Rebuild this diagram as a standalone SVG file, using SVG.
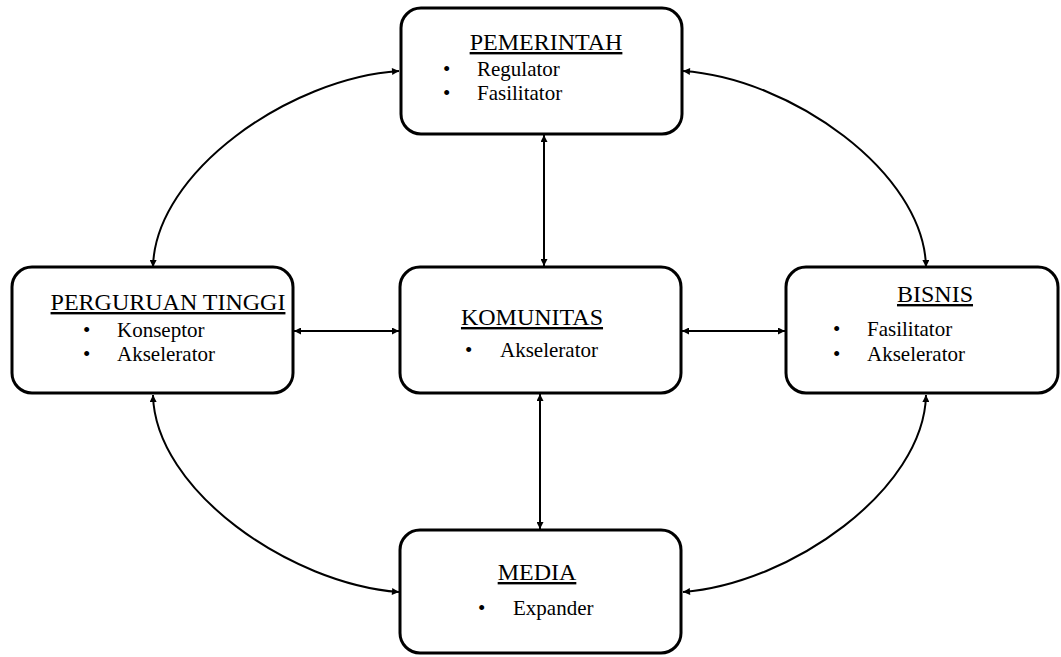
<svg xmlns="http://www.w3.org/2000/svg" width="1061" height="657" viewBox="0 0 1061 657">
<defs>
<style>
.box{fill:#fff;stroke:#000;stroke-width:3}
text{font-family:'Liberation Serif','Times New Roman',Times,'DejaVu Serif',serif}
.title{font-size:24px;text-anchor:middle;text-decoration:underline;fill:#000}
.item{font-size:21px;fill:#000}
.conn{fill:none;stroke:#000;stroke-width:2;marker-start:url(#ah);marker-end:url(#ah)}
</style>
<marker id="ah" viewBox="0 0 10 10" refX="10" refY="5" markerWidth="8" markerHeight="7" markerUnits="userSpaceOnUse" orient="auto-start-reverse">
<path d="M0,0 L10,5 L0,10 z" fill="#000"/>
</marker>
</defs>
<rect width="1061" height="657" fill="#fff"/>
<g id="connectors">
<path class="conn" d="M153,267 C155,172 290,78 399,71"/>
<path class="conn" d="M926,267 C924,172 790,78 683,71"/>
<path class="conn" d="M153,395 C155,490 290,584 399,592"/>
<path class="conn" d="M926,395 C924,490 790,584 683,592"/>
<path class="conn" d="M544,135 L544,266"/>
<path class="conn" d="M540,394 L540,529"/>
<path class="conn" d="M294,331 L399,331"/>
<path class="conn" d="M682,331 L785,331"/>
</g>
<g id="pemerintah">
<rect class="box" x="401" y="8" width="281" height="126" rx="20"/>
<text class="title" x="546" y="50">PEMERINTAH</text>
<text class="item" x="443" y="76">•</text><text class="item" x="477" y="76">Regulator</text>
<text class="item" x="443" y="100">•</text><text class="item" x="477" y="100">Fasilitator</text>
</g>
<g id="perguruan-tinggi">
<rect class="box" x="12" y="267" width="281" height="126" rx="20"/>
<text class="title" x="168" y="310">PERGURUAN TINGGI</text>
<text class="item" x="83" y="337">•</text><text class="item" x="117" y="337">Konseptor</text>
<text class="item" x="83" y="361">•</text><text class="item" x="117" y="361">Akselerator</text>
</g>
<g id="komunitas">
<rect class="box" x="400" y="267" width="281" height="126" rx="20"/>
<text class="title" x="532" y="325">KOMUNITAS</text>
<text class="item" x="465" y="357">•</text><text class="item" x="500" y="357">Akselerator</text>
</g>
<g id="bisnis">
<rect class="box" x="786" y="267" width="272" height="126" rx="20"/>
<text class="title" x="935" y="302">BISNIS</text>
<text class="item" x="833" y="336">•</text><text class="item" x="867" y="336">Fasilitator</text>
<text class="item" x="833" y="361">•</text><text class="item" x="867" y="361">Akselerator</text>
</g>
<g id="media">
<rect class="box" x="400" y="530" width="281" height="123" rx="20"/>
<text class="title" x="537" y="580">MEDIA</text>
<text class="item" x="478" y="615">•</text><text class="item" x="513" y="615">Expander</text>
</g>
</svg>
